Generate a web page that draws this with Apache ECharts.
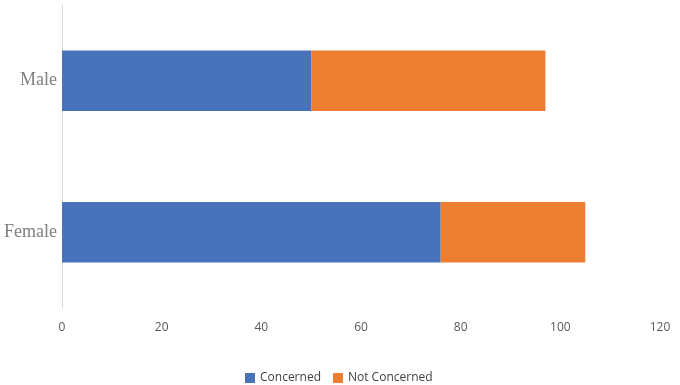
<!DOCTYPE html>
<html>
<head>
<meta charset="utf-8">
<script src="https://cdn.jsdelivr.net/npm/echarts@6/dist/echarts.min.js"></script>
<style>
  html, body { margin: 0; padding: 0; background: #fff; }
  #chart { width: 680px; height: 385px; }
</style>
</head>
<body>
<div id="chart"></div>
<script>
// categories, bottom to top as echarts draws them
const categories = ["Female", "Male"];
const seriesNames = ["Concerned", "Not Concerned"];
const concerned = [76, 50];
const notConcerned = [29, 47];
const xTicks = [0, 120, 20]; // min, max, interval

const colors = ["#4872BA", "#ED7D31"];

const chart = echarts.init(document.getElementById("chart"));

const options = {
  animation: false,
  color: colors,
  legend: {
    bottom: -4,
    left: 240,
    itemWidth: 10,
    itemHeight: 10,
    itemGap: 12,
    icon: "rect",
    textStyle: { fontFamily: "Open Sans", fontSize: 12, color: "#404040" },
    data: seriesNames
  },
  grid: { left: 62, right: 20, top: 5, bottom: 77 },
  xAxis: {
    type: "value",
    min: xTicks[0],
    max: xTicks[1],
    interval: xTicks[2],
    axisLine: { show: false },
    axisTick: { show: false },
    splitLine: { show: false },
    axisLabel: {
      margin: 14,
      fontFamily: "Open Sans",
      fontSize: 12,
      color: "#595959"
    }
  },
  yAxis: {
    type: "category",
    data: categories,
    axisLine: { show: true, lineStyle: { color: "#d9d9d9", width: 1 } },
    axisTick: { show: false },
    axisLabel: {
      margin: 5,
      padding: [8, 0, 0, 0],
      fontFamily: "Liberation Serif",
      fontSize: 18,
      color: "#7f7f7f"
    }
  },
  series: [
    {
      name: seriesNames[0],
      type: "bar",
      stack: "total",
      barWidth: "40%",
      data: concerned
    },
    {
      name: seriesNames[1],
      type: "bar",
      stack: "total",
      barWidth: "40%",
      data: notConcerned
    }
  ]
};

chart.setOption(options);
</script>
</body>
</html>
